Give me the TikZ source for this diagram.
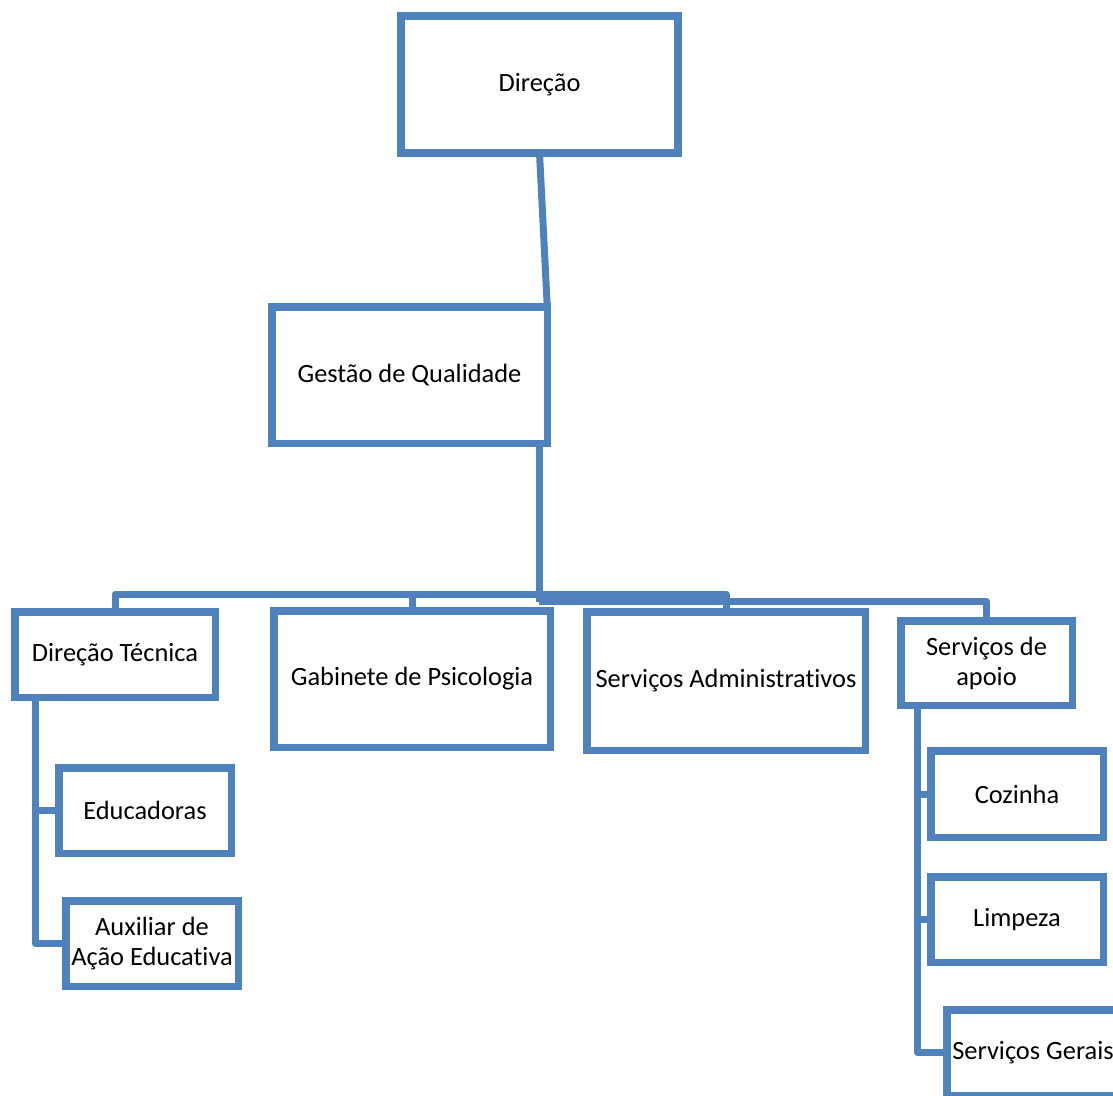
\documentclass[tikz,border=0pt]{standalone}
\usepackage{fontspec}
\setmainfont{Carlito}[Ligatures=NoCommon]
\usetikzlibrary{positioning, calc}
\definecolor{orgblue}{RGB}{79,129,189}

\begin{document}
\begin{tikzpicture}[
  x=1pt, y=-1pt,
  unit/.style={rectangle, draw=orgblue, line width=7.5pt, fill=white,
    inner sep=0pt, outer sep=0pt, text centered, align=center,
    font=\fontsize{26.4}{30}\selectfont},
  wideunit/.style={unit, minimum width=277pt, minimum height=137pt},
  smallunit/.style={unit, minimum width=172.5pt, minimum height=85.5pt},
  link/.style={draw=orgblue, line width=7pt, line join=round}
]
\clip (0,0) rectangle (1113,1095);

\node (dir) [wideunit] at (539.5,84.5) {Direção};
\node (gq) [wideunit, minimum width=275.5pt, minimum height=136.5pt] at (409.5,375) {Gestão de Qualidade};

\node (dt) [unit, minimum width=200.5pt, minimum height=85.5pt] at (115,654.5) {Direção Técnica};
\node (gp) [wideunit, minimum width=276.5pt, minimum height=136.5pt] at (412,679) {Gabinete de Psicologia};
\node (sa) [wideunit, minimum width=278.5pt, minimum height=138.5pt] at (726,681) {Serviços Administrativos};
\node (sp) [smallunit, minimum width=171.5pt, minimum height=84.5pt] at (986.5,663) {Serviços de\\apoio};

\node (ed) [smallunit] at (145,810.5) {Educadoras};
\node (ax) [smallunit] at (152,943.5) {Auxiliar de\\Ação Educativa};

\node (cz) [smallunit, minimum height=86.5pt] at (1017,794) {Cozinha};
\node (lp) [smallunit] at (1017,919.5) {Limpeza};
\node (sg) [smallunit] at (1033,1052.5) {Serviços Gerais};

\coordinate (hub) at (539,594);
\coordinate (hublow) at (539,601.5);
\coordinate (dtrail) at ($(dt.south west)+(20.25,0)$);
\coordinate (sprail) at ($(sp.south west)+(16.75,0)$);

\draw [link] (dir.south) -- (gq.north east);
\draw [link] (gq.south -| hub) -- (hublow);
\draw [link] (hub) -| (dt.north);
\draw [link] (hub) -| (gp.north);
\draw [link] (hub) -| (sa.north);
\draw [link] (hublow) -| (sp.north);
\draw [link] (dtrail) |- (ed.west);
\draw [link] (dtrail) |- (ax.west);
\draw [link] (sprail) |- (cz.west);
\draw [link] (sprail) |- (lp.west);
\draw [link] (sprail) |- (sg.west);

\end{tikzpicture}
\end{document}
